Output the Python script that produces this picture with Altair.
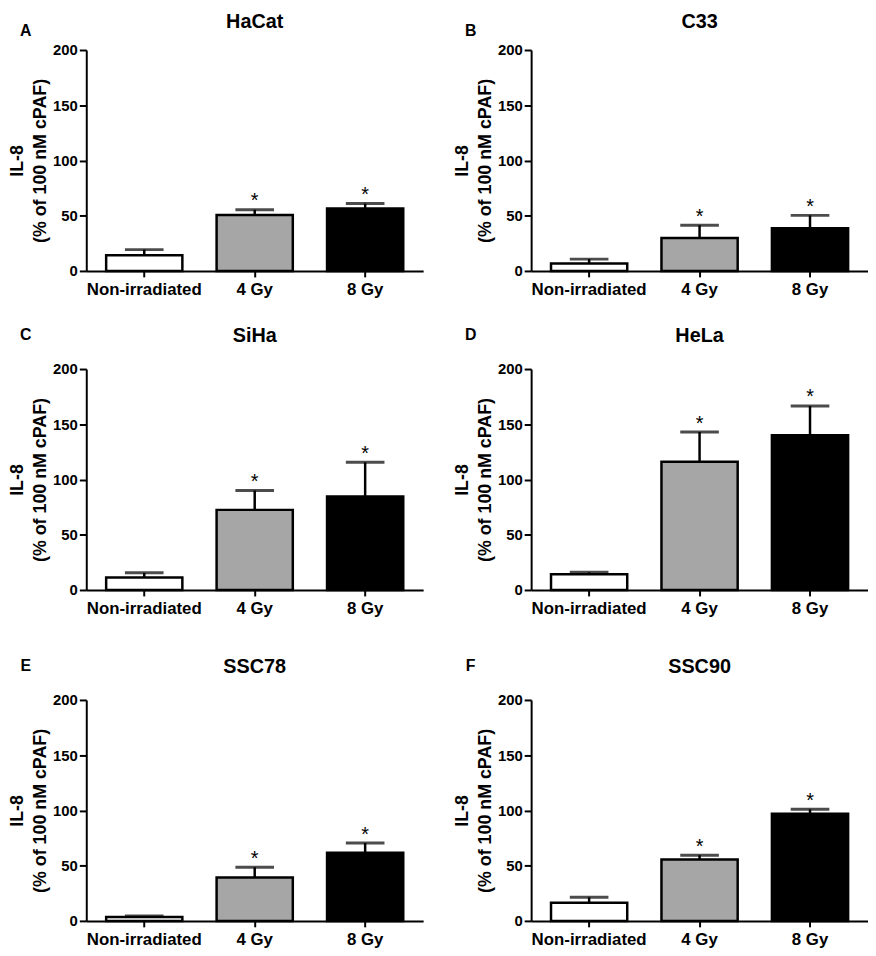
import altair as alt
import pandas as pd

groups = ["Non-irradiated", "4 Gy", "8 Gy"]
fills = ["#ffffff", "#a6a6a6", "#000000"]
significant = [False, True, True]

cells = ["HaCat", "C33", "SiHa", "HeLa", "SSC78", "SSC90"]
letters = ["A", "B", "C", "D", "E", "F"]

hacat_mean = [14.3, 50.6, 56.5]
hacat_sem = [5.0, 4.8, 4.5]
c33_mean = [6.8, 29.8, 38.7]
c33_sem = [3.9, 11.6, 11.6]
siha_mean = [11.3, 72.5, 84.7]
siha_sem = [4.2, 17.5, 30.9]
hela_mean = [14.3, 116.0, 140.0]
hela_sem = [1.7, 27.0, 26.6]
ssc78_mean = [3.6, 39.3, 61.6]
ssc78_sem = [0.9, 9.2, 8.9]
ssc90_mean = [16.4, 55.6, 97.0]
ssc90_sem = [5.0, 3.9, 4.0]

y_ticks = [0, 50, 100, 150, 200]

means = [hacat_mean, c33_mean, siha_mean, hela_mean, ssc78_mean, ssc90_mean]
sems = [hacat_sem, c33_sem, siha_sem, hela_sem, ssc78_sem, ssc90_sem]

FONT = "Liberation Sans"
W, H = 340, 223


def panel(i):
    df = pd.DataFrame({
        "group": groups,
        "mean": means[i],
        "upper": [m + s for m, s in zip(means[i], sems[i])],
        "sig": significant,
    })
    base = alt.Chart(df)
    x = alt.X("group:N", sort=groups, title=None,
              scale=alt.Scale(paddingInner=0.31, paddingOuter=0.18),
              axis=alt.Axis(labelAngle=0, labelFontSize=17, tickSize=6,
                            labelPadding=5))
    y_scale = alt.Scale(domain=[0, 200], nice=False)
    bars = base.mark_bar(stroke="black", strokeWidth=2.5).encode(
        x=x,
        y=alt.Y("mean:Q", scale=y_scale,
                axis=alt.Axis(values=y_ticks, title=["IL-8", "(% of 100 nM cPAF)"],
                              titleFontSize=18, titleLineHeight=23.5,
                              titlePadding=3, labelFontSize=15,
                              tickSize=7, labelPadding=2)),
        fill=alt.Fill("group:N", scale=alt.Scale(domain=groups, range=fills),
                      legend=None),
    )
    stem = base.mark_rule(color="black", strokeWidth=2.5).encode(
        x=alt.X("group:N", sort=groups),
        y=alt.Y("mean:Q"),
        y2="upper:Q",
    )
    cap = base.mark_tick(color="black", orient="horizontal", size=39,
                         thickness=3).encode(
        x=alt.X("group:N", sort=groups),
        y=alt.Y("upper:Q"),
    )
    star = base.transform_filter("datum.sig").mark_text(
        text="*", fontSize=20, baseline="middle", dy=-8.5, color="black",
        font=FONT).encode(
        x=alt.X("group:N", sort=groups),
        y=alt.Y("upper:Q"),
    )
    top_row = i < 2
    letter_y = -19 if top_row else -34
    title_y = -28 if top_row else -33
    labels = alt.Chart(alt.Data(values=[{"t": letters[i], "c": cells[i]}]))
    letter = labels.mark_text(
        fontSize=16, fontWeight="bold", font=FONT, color="black",
        align="center", baseline="middle").encode(
        text="t:N", x=alt.value(-61), y=alt.value(letter_y))
    title = labels.mark_text(
        fontSize=20, fontWeight="bold", font=FONT, color="black",
        align="center", baseline="middle").encode(
        text="c:N", x=alt.value(W / 2), y=alt.value(title_y))
    return alt.layer(bars, stem, cap, star, letter, title).properties(
        width=W, height=H)


rows = [alt.hconcat(panel(2 * r), panel(2 * r + 1), spacing=30) for r in range(3)]

chart = alt.vconcat(
    rows[0],
    alt.vconcat(rows[1], rows[2], spacing=41),
    spacing=29,
).properties(
    padding={"left": 0, "top": 0, "right": 0, "bottom": 0}
).configure_view(stroke=None).configure_axis(
    grid=False, domainColor="black", domainWidth=2, tickColor="black",
    tickWidth=2, labelColor="black", labelFont=FONT, labelFontWeight="bold",
    titleColor="black", titleFont=FONT, titleFontWeight="bold",
)

chart.save("out.html", embed_options={"renderer": "svg", "actions": False})
